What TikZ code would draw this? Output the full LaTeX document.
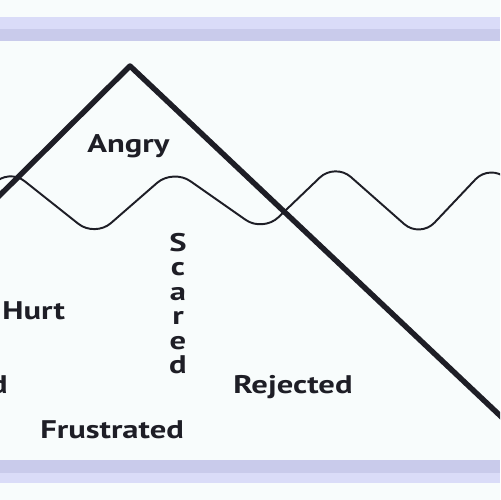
\documentclass[tikz,border=0pt]{standalone}
\usepackage{fontspec}
\setmainfont[FakeStretch=1.28]{PT Sans}
\definecolor{bg}{RGB}{248,252,252}
\definecolor{bandlight}{RGB}{218,220,248}
\definecolor{banddark}{RGB}{201,203,235}
\definecolor{ink}{RGB}{30,30,38}
\begin{document}
\begin{tikzpicture}[x=0.02cm,y=-0.02cm,
  lbl/.style={font=\bfseries\fontsize{14.5}{16}\selectfont, text=ink, inner sep=0pt, anchor=base west},
  bigline/.style={draw=ink, line width=3.1pt, line join=round},
  waveline/.style={draw=ink, line width=1.1pt, rounded corners=12pt}]
\useasboundingbox (0,0) rectangle (500,500);
\fill[bg] (0,0) rectangle (500,500);
\fill[bandlight] (0,17) rectangle (500,29);
\fill[banddark] (0,29) rectangle (500,41);
\fill[banddark] (0,460) rectangle (500,473);
\fill[bandlight] (0,473) rectangle (500,483);
\begin{scope}
  \clip (0,41) rectangle (500,460);
  \coordinate (w0) at (-8,186);
  \coordinate (w1) at (8,168);
  \coordinate (w2) at (95,237);
  \coordinate (w3) at (173,169);
  \coordinate (w4) at (263,232);
  \coordinate (w5) at (335,163);
  \coordinate (w6) at (420,238);
  \coordinate (w7) at (490,164);
  \coordinate (w8) at (515,186);
  \draw[waveline] (w0) -- (w1) -- (w2) -- (w3) -- (w4) -- (w5) -- (w6) -- (w7) -- (w8);
  \coordinate (L) at (-10,205);
  \coordinate (P) at (130,66);
  \coordinate (R) at (510,425);
  \draw[bigline] (L) -- (P) -- (R);
\end{scope}
\node[lbl] (angry) at (87,153) {Angry};
\node[lbl] (hurt) at (2,319) {Hurt};
\node[lbl, anchor=base east] (dd) at (8,393) {d};
\node[lbl] (rejected) at (233,393) {Rejected};
\node[lbl] (frustrated) at (40,438) {Frustrated};
\node[lbl, anchor=north, align=center, font=\bfseries\fontsize{14.5}{13.9}\selectfont] (scared) at (178,233) {S\\c\\a\\r\\e\\d};
\end{tikzpicture}
\end{document}
